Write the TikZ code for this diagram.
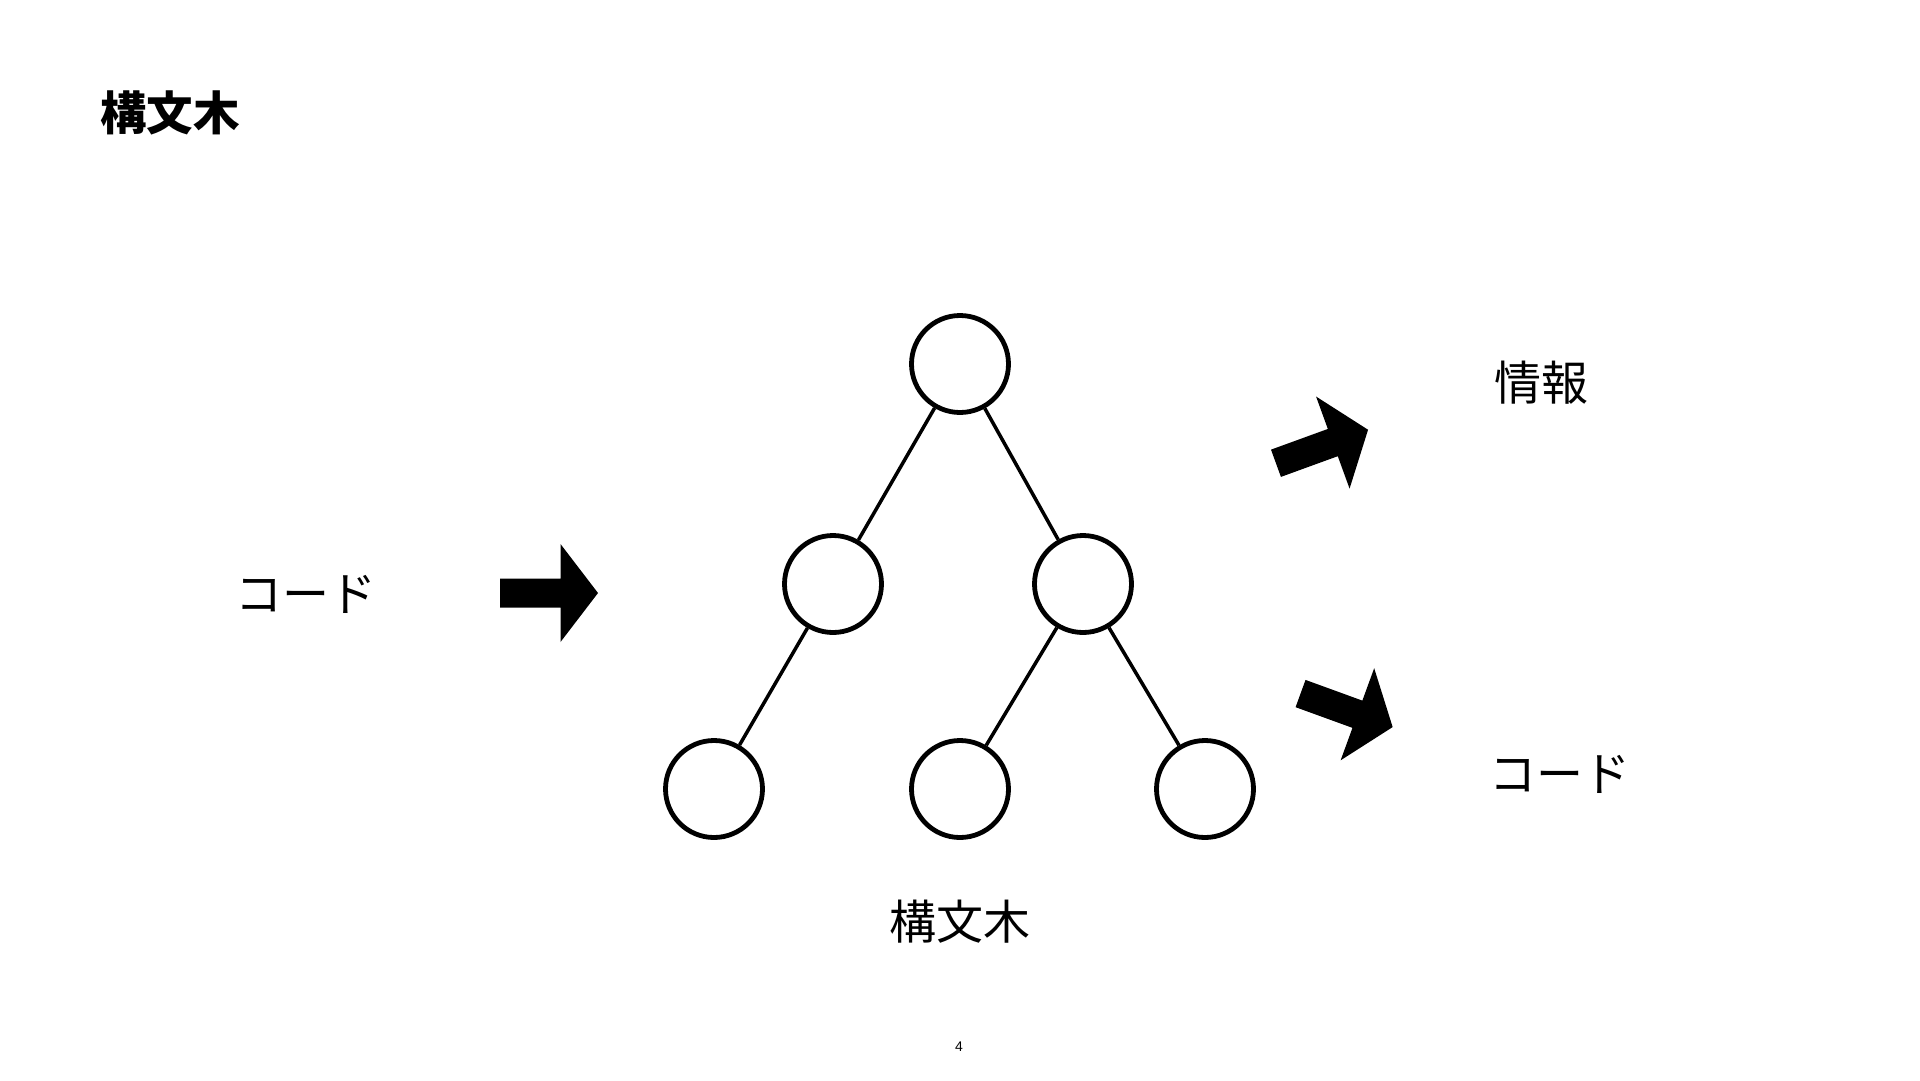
\documentclass[tikz,border=0pt]{standalone}
\usepackage{fontspec}
\newfontfamily\jpfont{Noto Sans CJK JP}
\newfontfamily\numfont{Liberation Sans}
\usetikzlibrary{positioning}

\begin{document}
\begin{tikzpicture}[
    x=1pt,y=-1pt,
    vertex/.style={circle,draw,line width=4.8pt,minimum size=97pt,inner sep=0pt},
    edge/.style={line width=3.5pt},
    jptext/.style={inner sep=0pt,font=\jpfont\fontsize{47}{47}\selectfont},
    bigarrow/.pic={\fill (-49,-14.5) -- (11.5,-14.5) -- (11.5,-49) -- (49,0) -- (11.5,49) -- (11.5,14.5) -- (-49,14.5) -- cycle;}
]
\path[use as bounding box,fill=white] (0,0) rectangle (1920,1080);

% 見出し
\node[inner sep=0pt,font=\jpfont\bfseries\fontsize{46.5}{46.5}\selectfont] (title) at (170,113.4) {構文木};

% 木のノード
\node[vertex] (A) at (960,364) {};
\node[vertex] (B) at (833,584) {};
\node[vertex] (C) at (1083,584) {};
\node[vertex] (D) at (714,789) {};
\node[vertex] (E) at (960,789) {};
\node[vertex] (F) at (1205,789) {};

% 枝
\draw[edge] (A) -- (B);
\draw[edge] (A) -- (C);
\draw[edge] (B) -- (D);
\draw[edge] (C) -- (E);
\draw[edge] (C) -- (F);

% 矢印
\pic at (549,593) {bigarrow};
\pic[rotate=20] at (1322,446.5) {bigarrow};
\pic[rotate=-20] at (1346.6,710.3) {bigarrow};

% ラベル
\node[jptext] (src) at (306,594) {コード};
\node[jptext] (info) at (1541.5,383) {情報};
\node[jptext] (dst) at (1560,774) {コード};
\node[jptext] (cap) at (959.5,921.5) {構文木};
\node[inner sep=0pt,font=\numfont\fontsize{14}{14}\selectfont] (page) at (959,1047) {4};

\end{tikzpicture}
\end{document}
